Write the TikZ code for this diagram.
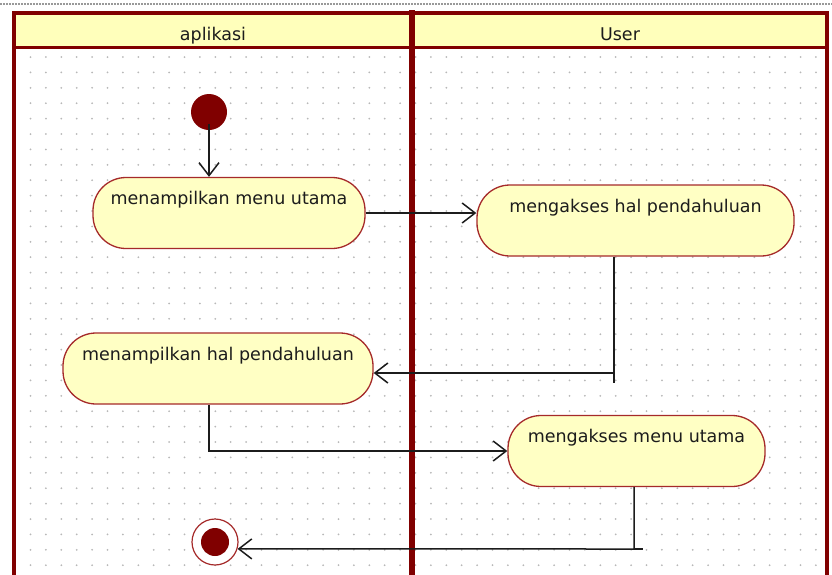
\documentclass[tikz,border=0pt]{standalone}
\usepackage{fontspec}
\setmainfont{DejaVu Sans}
\usetikzlibrary{arrows.meta,calc}
\definecolor{lane}{HTML}{800000}
\definecolor{hdr}{HTML}{FFFFBB}
\definecolor{act}{HTML}{FFFFC4}
\definecolor{actb}{HTML}{A52A2A}
\definecolor{dotc}{HTML}{B8B8B8}
\definecolor{ink}{HTML}{1C1C1C}
\begin{document}
\begin{tikzpicture}[x=1pt,y=-1pt,font=\fontsize{17.5}{20}\selectfont,
  activity/.style={draw=actb,fill=act,line width=1.3pt,rounded corners=33pt,
    inner sep=0pt,text height=27pt,text depth=44pt,text=ink},
  flow/.style={draw=ink,line width=1.5pt,
    -{Straight Barb[length=13pt,width=20pt,line width=1.5pt]}},
  plain/.style={draw=ink,line width=1.5pt},
  laneline/.style={draw=lane,line cap=rect},
  hdrtext/.style={anchor=base,text=ink}]
\useasboundingbox (0,0) rectangle (832,574);
% top dotted line
\draw[gray!80,line width=1.3pt,dash pattern=on 2pt off 1pt] (0,4) -- (832,4);
% grid dots
\foreach \i in {0,...,51}{
  \foreach \j in {0,...,33}{
    \fill[dotc] (30.5+15.4*\i,57+15.4*\j) circle (1);
  }
}
% headers
\fill[hdr] (14,13) rectangle (827,47);
\draw[laneline,line width=3pt] (14,47) -- (827,47);
\draw[laneline,line width=4pt] (14,13) -- (827,13);
\draw[laneline,line width=4pt] (14,13) -- (14,580);
\draw[laneline,line width=6pt] (412,13) -- (412,580);
\draw[laneline,line width=4pt] (827,13) -- (827,580);
\node[hdrtext] (h1) at (213,40) {aplikasi};
\node[hdrtext] (h2) at (620,40) {User};
% nodes
\node[circle,fill=lane,inner sep=0pt,minimum size=36pt] (start) at (209,112) {};
\node[activity,minimum width=272pt] (n1) at (229,213) {menampilkan menu utama};
\node[activity,minimum width=317pt] (n2) at (635.5,220.5) {mengakses hal pendahuluan};
\node[activity,minimum width=310pt] (n3) at (218,368.5) {menampilkan hal pendahuluan};
\node[activity,minimum width=257pt] (n4) at (636.5,451) {mengakses menu utama};
\node[circle,draw=actb,fill=white,line width=1.2pt,inner sep=0pt,minimum size=46pt] (fin) at (215,542) {};
\node[circle,fill=lane,inner sep=0pt,minimum size=28pt] (fincore) at (fin) {};
% connectors
\coordinate (c0) at (209,124);
\coordinate (c1) at (614,373);
\coordinate (c2) at (209,451);
\coordinate (c3) at (634,549);
\draw[flow] (c0) -- (c0 |- n1.north);
\draw[flow] (n1.east) -- (n1.east -| n2.west);
\draw[flow] (c1 |- n2.south) -- (c1) -- (c1 -| n3.east);
\draw[plain] (c1) -- ++(0,10);
\draw[flow] (c2 |- n3.south) -- (c2) -- (n4.west);
\draw[flow] (c3 |- n4.south) -- (c3) -- (fin.-17.7);
\draw[plain] (c3) -- ++(9,0);
\end{tikzpicture}
\end{document}
